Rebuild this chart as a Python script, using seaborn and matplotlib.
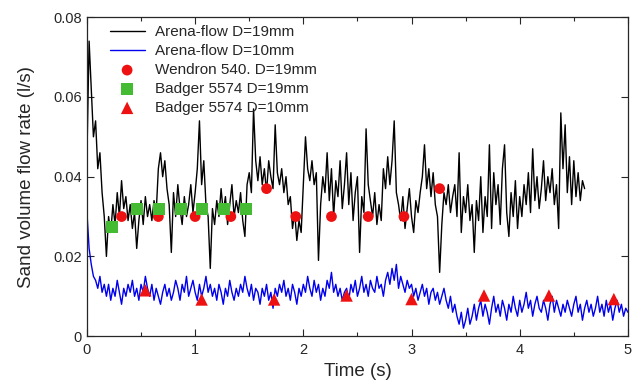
import numpy as np
import pandas as pd
import matplotlib
matplotlib.use("Agg")
import matplotlib.pyplot as plt
from matplotlib.ticker import MultipleLocator
import seaborn as sns

dt = 0.02

# Arena-flow D=19mm, units of 1e-3 l/s, 0 .. 4.60 s
flow_19 = [
    45, 74, 62, 50, 54, 42, 46, 36, 30, 20,
    30, 26, 33, 28, 36, 30, 39, 32, 35, 29,
    33, 27, 31, 22, 29, 34, 28, 35, 30, 33,
    29, 34, 31, 42, 46, 40, 44, 37, 33, 21,
    36, 30, 38, 32, 28, 35, 30, 33, 38, 31,
    36, 42, 54, 38, 44, 33, 30, 17, 32, 28,
    34, 30, 37, 31, 35, 28, 33, 38, 30, 34,
    31, 36, 29, 25, 38, 41, 36, 57, 44, 39,
    45, 38, 42, 36, 44, 40, 37, 53, 41, 38,
    42, 36, 40, 33, 35, 27, 31, 24, 29, 26,
    38, 50, 42, 39, 44, 38, 41, 19, 33, 40,
    36, 46, 34, 42, 30, 39, 35, 44, 32, 38,
    46, 33, 41, 29, 36, 40, 21, 35, 31, 52,
    38, 34, 30, 36, 28, 33, 29, 42, 37, 45,
    38, 44, 54, 36, 33, 29, 35, 27, 32, 37,
    30, 26, 34, 31, 36, 40, 48, 37, 42, 35,
    41, 33, 30, 16, 28, 36, 33, 38, 31, 35,
    38, 30, 46, 26, 35, 31, 38, 29, 33, 21,
    34, 29, 40, 26, 35, 30, 48, 27, 41, 33,
    38, 28, 42, 48, 31, 25, 36, 30, 39, 27,
    35, 30, 38, 33, 41, 31, 47, 34, 40, 32,
    37, 44, 34, 40, 36, 42, 33, 38, 27, 56,
    42, 53, 36, 45, 33, 44, 35, 41, 34, 39,
    37,
]

# Arena-flow D=10mm, units of 1e-3 l/s, 0 .. 5.00 s
flow_10 = [
    31, 22, 18, 15, 14, 12, 15, 11, 13, 10,
    13, 9, 12, 10, 14, 11, 8, 12, 10, 13,
    11, 14, 10, 12, 9, 13, 11, 15, 12, 10,
    13, 9, 12, 10, 8, 11, 13, 10, 12, 9,
    11, 14, 12, 9, 13, 11, 15, 10, 12, 14,
    11, 9, 13, 10, 12, 15, 11, 13, 10, 12,
    9, 13, 11, 8, 12, 10, 14, 11, 9, 12,
    10, 13, 11, 15, 12, 10, 13, 9, 12, 11,
    8, 12, 10, 13, 9, 11, 7, 12, 10, 13,
    11, 14, 10, 12, 9, 13, 11, 8, 12, 10,
    13, 11, 15, 12, 10, 14, 11, 13, 9, 12,
    10, 14, 12, 16, 11, 13, 10, 12, 9, 11,
    12, 9, 13, 11, 14, 10, 12, 15, 11, 13,
    10, 14, 12, 11, 15, 12, 13, 10, 14, 16,
    13, 17, 14, 18, 12, 15, 13, 11, 14, 12,
    13, 10, 12, 9, 11, 13, 10, 12, 8, 11,
    12, 9, 11, 8, 10, 12, 9, 7, 10, 6,
    8, 5, 3, 6, 2, 4, 7, 3, 5, 8,
    4, 7, 9, 5, 8, 6, 3, 7, 10, 6,
    8, 5, 9, 7, 4, 8, 6, 10, 7, 5,
    9, 6, 8, 11, 7, 9, 5, 8, 10, 7,
    6, 9, 7, 4, 8, 10, 6, 9, 7, 5,
    8, 6, 9, 7, 5, 8, 10, 6, 8, 4,
    7, 9, 6, 8, 5, 7, 10, 6, 8, 5,
    9, 6, 8, 4, 7, 9, 6, 8, 5, 7,
    6,
]

# measured points
wendron_t = [0.32, 0.66, 1.00, 1.33, 1.66, 1.93, 2.26, 2.60, 2.93, 3.26]
wendron_q = [0.030, 0.030, 0.030, 0.030, 0.037, 0.030, 0.030, 0.030, 0.030, 0.037]

badger19_t = [0.23, 0.46, 0.67, 0.87, 1.06, 1.27, 1.47]
badger19_q = [0.0273, 0.032, 0.032, 0.032, 0.032, 0.032, 0.032]

badger10_t = [0.54, 1.06, 1.73, 2.40, 3.00, 3.67, 4.27, 4.87]
badger10_q = [0.0115, 0.0092, 0.0092, 0.0102, 0.0093, 0.0102, 0.0102, 0.0093]

x_ticks = [0, 1, 2, 3, 4, 5]
y_ticks = [0, 0.02, 0.04, 0.06, 0.08]
y_tick_labels = ["0", "0.02", "0.04", "0.06", "0.08"]

d19 = pd.DataFrame({"t": np.arange(len(flow_19)) * dt, "q": np.array(flow_19) * 1e-3})
d10 = pd.DataFrame({"t": np.arange(len(flow_10)) * dt, "q": np.array(flow_10) * 1e-3})

sns.set_style("ticks")
plt.rcParams['font.family'] = ['Liberation Sans', 'DejaVu Sans']

fig = plt.figure(figsize=(6.44, 3.82), dpi=100)
ax = fig.add_axes([0.135, 0.12, 0.84, 0.835])

sns.lineplot(data=d19, x="t", y="q", ax=ax, color="black", lw=1.0,
             estimator=None, sort=False, label="Arena-flow D=19mm")
sns.lineplot(data=d10, x="t", y="q", ax=ax, color="#0000ee", lw=1.0,
             estimator=None, sort=False, label="Arena-flow D=10mm")
sns.scatterplot(x=wendron_t, y=wendron_q, ax=ax, color="#ee1111", marker="o",
                s=60, edgecolor="none", label="Wendron 540. D=19mm", zorder=5)
sns.scatterplot(x=badger19_t, y=badger19_q, ax=ax, color="#44bb33", marker="s",
                s=75, edgecolor="none", label="Badger 5574 D=19mm", zorder=5)
sns.scatterplot(x=badger10_t, y=badger10_q, ax=ax, color="#ee1111", marker="^",
                s=80, edgecolor="none", label="Badger 5574 D=10mm", zorder=5)

ax.set_xticks(x_ticks, [str(v) for v in x_ticks])
ax.set_yticks(y_ticks, y_tick_labels)
ax.xaxis.set_minor_locator(MultipleLocator(0.5))
ax.set_xlim(0, 5)
ax.set_ylim(0, 0.08)
ax.tick_params(which="both", direction="in", top=True, right=True, labelsize=10.5)
ax.tick_params(axis="x", pad=5)
ax.tick_params(which="major", length=5, width=0.8)
ax.tick_params(which="minor", length=3, width=0.8)
for s in ax.spines.values():
    s.set_linewidth(0.9)
    s.set_visible(True)

ax.set_xlabel("Time (s)", fontsize=13.5, labelpad=4)
ax.set_ylabel("Sand volume flow rate (l/s)", fontsize=13.5, labelpad=13)

ax.legend(loc="upper left", frameon=False, fontsize=11, labelspacing=0.32,
          handlelength=2.3, handletextpad=0.7, borderaxespad=0.3,
          bbox_to_anchor=(0.022, 1.008))

fig.savefig("out.png", dpi=100)
